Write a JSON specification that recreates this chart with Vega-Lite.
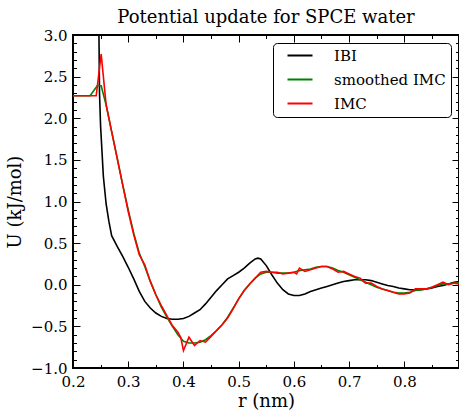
{
  "$schema": "https://vega.github.io/schema/vega-lite/v6.json",
  "width": 386,
  "height": 333,
  "autosize": "none",
  "padding": {"left": 73, "top": 35, "right": 0, "bottom": 43},
  "title": {"text": "Potential update for SPCE water", "font": "DejaVu Serif", "fontSize": 18, "fontWeight": "normal", "color": "black", "anchor": "middle", "baseline": "alphabetic", "offset": 4, "dy": 17},
  "datasets": {
    "curves": [
      {"r": 0.247, "U": 3.0, "series": "IBI"},
      {"r": 0.248, "U": 2.3, "series": "IBI"},
      {"r": 0.25, "U": 1.9, "series": "IBI"},
      {"r": 0.255, "U": 1.3, "series": "IBI"},
      {"r": 0.26, "U": 0.97, "series": "IBI"},
      {"r": 0.265, "U": 0.76, "series": "IBI"},
      {"r": 0.27, "U": 0.59, "series": "IBI"},
      {"r": 0.28, "U": 0.46, "series": "IBI"},
      {"r": 0.29, "U": 0.34, "series": "IBI"},
      {"r": 0.30, "U": 0.21, "series": "IBI"},
      {"r": 0.31, "U": 0.07, "series": "IBI"},
      {"r": 0.32, "U": -0.08, "series": "IBI"},
      {"r": 0.33, "U": -0.2, "series": "IBI"},
      {"r": 0.34, "U": -0.28, "series": "IBI"},
      {"r": 0.35, "U": -0.34, "series": "IBI"},
      {"r": 0.36, "U": -0.38, "series": "IBI"},
      {"r": 0.37, "U": -0.405, "series": "IBI"},
      {"r": 0.38, "U": -0.415, "series": "IBI"},
      {"r": 0.39, "U": -0.415, "series": "IBI"},
      {"r": 0.40, "U": -0.405, "series": "IBI"},
      {"r": 0.41, "U": -0.38, "series": "IBI"},
      {"r": 0.42, "U": -0.34, "series": "IBI"},
      {"r": 0.43, "U": -0.3, "series": "IBI"},
      {"r": 0.44, "U": -0.23, "series": "IBI"},
      {"r": 0.45, "U": -0.15, "series": "IBI"},
      {"r": 0.46, "U": -0.07, "series": "IBI"},
      {"r": 0.47, "U": 0.0, "series": "IBI"},
      {"r": 0.48, "U": 0.07, "series": "IBI"},
      {"r": 0.49, "U": 0.11, "series": "IBI"},
      {"r": 0.50, "U": 0.15, "series": "IBI"},
      {"r": 0.51, "U": 0.2, "series": "IBI"},
      {"r": 0.52, "U": 0.26, "series": "IBI"},
      {"r": 0.53, "U": 0.31, "series": "IBI"},
      {"r": 0.535, "U": 0.32, "series": "IBI"},
      {"r": 0.54, "U": 0.31, "series": "IBI"},
      {"r": 0.55, "U": 0.23, "series": "IBI"},
      {"r": 0.56, "U": 0.12, "series": "IBI"},
      {"r": 0.57, "U": 0.02, "series": "IBI"},
      {"r": 0.58, "U": -0.06, "series": "IBI"},
      {"r": 0.59, "U": -0.11, "series": "IBI"},
      {"r": 0.60, "U": -0.13, "series": "IBI"},
      {"r": 0.61, "U": -0.13, "series": "IBI"},
      {"r": 0.62, "U": -0.11, "series": "IBI"},
      {"r": 0.63, "U": -0.08, "series": "IBI"},
      {"r": 0.64, "U": -0.06, "series": "IBI"},
      {"r": 0.65, "U": -0.04, "series": "IBI"},
      {"r": 0.66, "U": -0.02, "series": "IBI"},
      {"r": 0.67, "U": 0.0, "series": "IBI"},
      {"r": 0.68, "U": 0.02, "series": "IBI"},
      {"r": 0.69, "U": 0.04, "series": "IBI"},
      {"r": 0.70, "U": 0.05, "series": "IBI"},
      {"r": 0.71, "U": 0.06, "series": "IBI"},
      {"r": 0.72, "U": 0.06, "series": "IBI"},
      {"r": 0.73, "U": 0.06, "series": "IBI"},
      {"r": 0.74, "U": 0.05, "series": "IBI"},
      {"r": 0.75, "U": 0.03, "series": "IBI"},
      {"r": 0.76, "U": 0.01, "series": "IBI"},
      {"r": 0.77, "U": -0.01, "series": "IBI"},
      {"r": 0.78, "U": -0.02, "series": "IBI"},
      {"r": 0.79, "U": -0.04, "series": "IBI"},
      {"r": 0.80, "U": -0.05, "series": "IBI"},
      {"r": 0.81, "U": -0.06, "series": "IBI"},
      {"r": 0.82, "U": -0.06, "series": "IBI"},
      {"r": 0.83, "U": -0.06, "series": "IBI"},
      {"r": 0.84, "U": -0.05, "series": "IBI"},
      {"r": 0.85, "U": -0.04, "series": "IBI"},
      {"r": 0.86, "U": -0.02, "series": "IBI"},
      {"r": 0.87, "U": -0.01, "series": "IBI"},
      {"r": 0.88, "U": 0.01, "series": "IBI"},
      {"r": 0.89, "U": 0.03, "series": "IBI"},
      {"r": 0.90, "U": 0.04, "series": "IBI"},

      {"r": 0.20, "U": 2.27, "series": "smoothed IMC"},
      {"r": 0.231, "U": 2.27, "series": "smoothed IMC"},
      {"r": 0.244, "U": 2.39, "series": "smoothed IMC"},
      {"r": 0.251, "U": 2.39, "series": "smoothed IMC"},
      {"r": 0.26, "U": 2.16, "series": "smoothed IMC"},
      {"r": 0.27, "U": 1.84, "series": "smoothed IMC"},
      {"r": 0.28, "U": 1.52, "series": "smoothed IMC"},
      {"r": 0.29, "U": 1.2, "series": "smoothed IMC"},
      {"r": 0.30, "U": 0.9, "series": "smoothed IMC"},
      {"r": 0.31, "U": 0.62, "series": "smoothed IMC"},
      {"r": 0.32, "U": 0.38, "series": "smoothed IMC"},
      {"r": 0.33, "U": 0.22, "series": "smoothed IMC"},
      {"r": 0.34, "U": 0.04, "series": "smoothed IMC"},
      {"r": 0.35, "U": -0.12, "series": "smoothed IMC"},
      {"r": 0.36, "U": -0.27, "series": "smoothed IMC"},
      {"r": 0.37, "U": -0.39, "series": "smoothed IMC"},
      {"r": 0.38, "U": -0.5, "series": "smoothed IMC"},
      {"r": 0.39, "U": -0.6, "series": "smoothed IMC"},
      {"r": 0.40, "U": -0.68, "series": "smoothed IMC"},
      {"r": 0.41, "U": -0.7, "series": "smoothed IMC"},
      {"r": 0.42, "U": -0.7, "series": "smoothed IMC"},
      {"r": 0.43, "U": -0.69, "series": "smoothed IMC"},
      {"r": 0.44, "U": -0.66, "series": "smoothed IMC"},
      {"r": 0.45, "U": -0.61, "series": "smoothed IMC"},
      {"r": 0.46, "U": -0.55, "series": "smoothed IMC"},
      {"r": 0.47, "U": -0.48, "series": "smoothed IMC"},
      {"r": 0.48, "U": -0.39, "series": "smoothed IMC"},
      {"r": 0.49, "U": -0.28, "series": "smoothed IMC"},
      {"r": 0.50, "U": -0.17, "series": "smoothed IMC"},
      {"r": 0.51, "U": -0.07, "series": "smoothed IMC"},
      {"r": 0.52, "U": 0.01, "series": "smoothed IMC"},
      {"r": 0.53, "U": 0.08, "series": "smoothed IMC"},
      {"r": 0.54, "U": 0.13, "series": "smoothed IMC"},
      {"r": 0.55, "U": 0.15, "series": "smoothed IMC"},
      {"r": 0.56, "U": 0.15, "series": "smoothed IMC"},
      {"r": 0.57, "U": 0.14, "series": "smoothed IMC"},
      {"r": 0.58, "U": 0.14, "series": "smoothed IMC"},
      {"r": 0.59, "U": 0.14, "series": "smoothed IMC"},
      {"r": 0.60, "U": 0.15, "series": "smoothed IMC"},
      {"r": 0.61, "U": 0.17, "series": "smoothed IMC"},
      {"r": 0.62, "U": 0.18, "series": "smoothed IMC"},
      {"r": 0.63, "U": 0.19, "series": "smoothed IMC"},
      {"r": 0.64, "U": 0.21, "series": "smoothed IMC"},
      {"r": 0.65, "U": 0.22, "series": "smoothed IMC"},
      {"r": 0.66, "U": 0.22, "series": "smoothed IMC"},
      {"r": 0.67, "U": 0.2, "series": "smoothed IMC"},
      {"r": 0.68, "U": 0.17, "series": "smoothed IMC"},
      {"r": 0.69, "U": 0.15, "series": "smoothed IMC"},
      {"r": 0.70, "U": 0.12, "series": "smoothed IMC"},
      {"r": 0.71, "U": 0.09, "series": "smoothed IMC"},
      {"r": 0.72, "U": 0.06, "series": "smoothed IMC"},
      {"r": 0.73, "U": 0.03, "series": "smoothed IMC"},
      {"r": 0.74, "U": 0.0, "series": "smoothed IMC"},
      {"r": 0.75, "U": -0.03, "series": "smoothed IMC"},
      {"r": 0.76, "U": -0.05, "series": "smoothed IMC"},
      {"r": 0.77, "U": -0.07, "series": "smoothed IMC"},
      {"r": 0.78, "U": -0.09, "series": "smoothed IMC"},
      {"r": 0.79, "U": -0.1, "series": "smoothed IMC"},
      {"r": 0.80, "U": -0.1, "series": "smoothed IMC"},
      {"r": 0.81, "U": -0.09, "series": "smoothed IMC"},
      {"r": 0.82, "U": -0.07, "series": "smoothed IMC"},
      {"r": 0.83, "U": -0.06, "series": "smoothed IMC"},
      {"r": 0.84, "U": -0.05, "series": "smoothed IMC"},
      {"r": 0.85, "U": -0.03, "series": "smoothed IMC"},
      {"r": 0.86, "U": -0.01, "series": "smoothed IMC"},
      {"r": 0.87, "U": 0.01, "series": "smoothed IMC"},
      {"r": 0.88, "U": 0.01, "series": "smoothed IMC"},
      {"r": 0.89, "U": 0.02, "series": "smoothed IMC"},
      {"r": 0.90, "U": 0.02, "series": "smoothed IMC"},

      {"r": 0.20, "U": 2.27, "series": "IMC"},
      {"r": 0.242, "U": 2.27, "series": "IMC"},
      {"r": 0.251, "U": 2.77, "series": "IMC"},
      {"r": 0.26, "U": 2.16, "series": "IMC"},
      {"r": 0.27, "U": 1.84, "series": "IMC"},
      {"r": 0.28, "U": 1.52, "series": "IMC"},
      {"r": 0.29, "U": 1.2, "series": "IMC"},
      {"r": 0.30, "U": 0.88, "series": "IMC"},
      {"r": 0.31, "U": 0.6, "series": "IMC"},
      {"r": 0.32, "U": 0.36, "series": "IMC"},
      {"r": 0.33, "U": 0.24, "series": "IMC"},
      {"r": 0.34, "U": 0.04, "series": "IMC"},
      {"r": 0.35, "U": -0.12, "series": "IMC"},
      {"r": 0.36, "U": -0.25, "series": "IMC"},
      {"r": 0.37, "U": -0.37, "series": "IMC"},
      {"r": 0.38, "U": -0.49, "series": "IMC"},
      {"r": 0.39, "U": -0.57, "series": "IMC"},
      {"r": 0.395, "U": -0.63, "series": "IMC"},
      {"r": 0.40, "U": -0.79, "series": "IMC"},
      {"r": 0.41, "U": -0.63, "series": "IMC"},
      {"r": 0.42, "U": -0.73, "series": "IMC"},
      {"r": 0.43, "U": -0.67, "series": "IMC"},
      {"r": 0.44, "U": -0.69, "series": "IMC"},
      {"r": 0.45, "U": -0.62, "series": "IMC"},
      {"r": 0.46, "U": -0.55, "series": "IMC"},
      {"r": 0.47, "U": -0.48, "series": "IMC"},
      {"r": 0.48, "U": -0.4, "series": "IMC"},
      {"r": 0.49, "U": -0.29, "series": "IMC"},
      {"r": 0.50, "U": -0.17, "series": "IMC"},
      {"r": 0.51, "U": -0.07, "series": "IMC"},
      {"r": 0.52, "U": 0.01, "series": "IMC"},
      {"r": 0.53, "U": 0.08, "series": "IMC"},
      {"r": 0.54, "U": 0.15, "series": "IMC"},
      {"r": 0.55, "U": 0.16, "series": "IMC"},
      {"r": 0.56, "U": 0.15, "series": "IMC"},
      {"r": 0.57, "U": 0.15, "series": "IMC"},
      {"r": 0.58, "U": 0.13, "series": "IMC"},
      {"r": 0.59, "U": 0.14, "series": "IMC"},
      {"r": 0.60, "U": 0.15, "series": "IMC"},
      {"r": 0.605, "U": 0.13, "series": "IMC"},
      {"r": 0.61, "U": 0.2, "series": "IMC"},
      {"r": 0.62, "U": 0.16, "series": "IMC"},
      {"r": 0.63, "U": 0.18, "series": "IMC"},
      {"r": 0.64, "U": 0.2, "series": "IMC"},
      {"r": 0.65, "U": 0.22, "series": "IMC"},
      {"r": 0.66, "U": 0.22, "series": "IMC"},
      {"r": 0.67, "U": 0.19, "series": "IMC"},
      {"r": 0.68, "U": 0.15, "series": "IMC"},
      {"r": 0.69, "U": 0.16, "series": "IMC"},
      {"r": 0.70, "U": 0.13, "series": "IMC"},
      {"r": 0.71, "U": 0.1, "series": "IMC"},
      {"r": 0.72, "U": 0.08, "series": "IMC"},
      {"r": 0.73, "U": 0.02, "series": "IMC"},
      {"r": 0.74, "U": 0.02, "series": "IMC"},
      {"r": 0.75, "U": -0.02, "series": "IMC"},
      {"r": 0.76, "U": -0.05, "series": "IMC"},
      {"r": 0.77, "U": -0.07, "series": "IMC"},
      {"r": 0.78, "U": -0.09, "series": "IMC"},
      {"r": 0.79, "U": -0.11, "series": "IMC"},
      {"r": 0.80, "U": -0.11, "series": "IMC"},
      {"r": 0.81, "U": -0.1, "series": "IMC"},
      {"r": 0.82, "U": -0.05, "series": "IMC"},
      {"r": 0.83, "U": -0.05, "series": "IMC"},
      {"r": 0.84, "U": -0.05, "series": "IMC"},
      {"r": 0.85, "U": -0.03, "series": "IMC"},
      {"r": 0.86, "U": 0.0, "series": "IMC"},
      {"r": 0.87, "U": 0.03, "series": "IMC"},
      {"r": 0.88, "U": 0.0, "series": "IMC"},
      {"r": 0.89, "U": 0.02, "series": "IMC"},
      {"r": 0.90, "U": 0.01, "series": "IMC"}
    ]
  },
  "data": {"name": "curves"},
  "config": {
    "font": "DejaVu Serif",
    "view": {"stroke": "black", "strokeWidth": 2},
    "axis": {
      "domain": false, "grid": false, "tickColor": "black", "tickWidth": 1,
      "labelFont": "DejaVu Serif", "labelFontSize": 15, "labelColor": "black",
      "labelFlush": false, "labelOverlap": false, "labelBound": false,
      "titleFont": "DejaVu Serif", "titleFontSize": 18, "titleFontWeight": "normal", "titleColor": "black"
    },
    "legend": {
      "orient": "top-right", "offset": 8, "strokeColor": "black", "fillColor": "white",
      "cornerRadius": 4, "padding": 5, "symbolType": "M0.67,0H9", "symbolStrokeWidth": 2,
      "symbolSize": 36, "labelFont": "DejaVu Serif", "labelFontSize": 15, "labelColor": "black",
      "labelOffset": 41, "rowPadding": 8
    }
  },
  "resolve": {"axis": {"x": "independent", "y": "independent"}},
  "layer": [
    {
      "mark": {"type": "line", "strokeWidth": 1.6, "clip": true},
      "encoding": {
        "x": {"field": "r", "type": "quantitative",
          "scale": {"domain": [0.2, 0.899], "nice": false, "zero": false},
          "axis": {"orient": "bottom", "values": [0.2, 0.3, 0.4, 0.5, 0.6, 0.7, 0.8], "format": ".1f",
            "tickSize": -7, "labelPadding": 13, "title": "r (nm)", "titlePadding": 3}},
        "y": {"field": "U", "type": "quantitative",
          "scale": {"domain": [-1, 3], "nice": false, "zero": false},
          "axis": {"orient": "left", "values": [-1, -0.5, 0, 0.5, 1, 1.5, 2, 2.5, 3], "format": ".1f",
            "tickSize": -7, "labelPadding": 13, "title": "U (kJ/mol)", "titlePadding": 6}},
        "color": {"field": "series", "type": "nominal",
          "scale": {"domain": ["IBI", "smoothed IMC", "IMC"], "range": ["black", "#008000", "#ff0000"]},
          "legend": {"title": null}}
      }
    },
    {
      "mark": {"type": "point", "opacity": 0},
      "encoding": {
        "x": {"field": "r", "type": "quantitative",
          "scale": {"domain": [0.2, 0.899], "nice": false, "zero": false},
          "axis": {"orient": "bottom", "values": [0.25, 0.35, 0.45, 0.55, 0.65, 0.75, 0.85], "tickSize": -3.5, "labels": false, "title": null}},
        "y": {"field": "U", "type": "quantitative",
          "scale": {"domain": [-1, 3], "nice": false, "zero": false},
          "axis": {"orient": "left", "values": [-0.9, -0.8, -0.7, -0.6, -0.4, -0.3, -0.2, -0.1, 0.1, 0.2, 0.3, 0.4, 0.6, 0.7, 0.8, 0.9, 1.1, 1.2, 1.3, 1.4, 1.6, 1.7, 1.8, 1.9, 2.1, 2.2, 2.3, 2.4, 2.6, 2.7, 2.8, 2.9], "tickSize": -3.5, "labels": false, "title": null}}
      }
    },
    {
      "mark": {"type": "point", "opacity": 0},
      "encoding": {
        "x": {"field": "r", "type": "quantitative",
          "scale": {"domain": [0.2, 0.899], "nice": false, "zero": false},
          "axis": {"orient": "top", "values": [0.2, 0.3, 0.4, 0.5, 0.6, 0.7, 0.8], "tickSize": -7, "labels": false, "title": null}},
        "y": {"field": "U", "type": "quantitative",
          "scale": {"domain": [-1, 3], "nice": false, "zero": false},
          "axis": {"orient": "right", "values": [-1, -0.5, 0, 0.5, 1, 1.5, 2, 2.5, 3], "tickSize": -7, "labels": false, "title": null}}
      }
    },
    {
      "mark": {"type": "point", "opacity": 0},
      "encoding": {
        "x": {"field": "r", "type": "quantitative",
          "scale": {"domain": [0.2, 0.899], "nice": false, "zero": false},
          "axis": {"orient": "top", "values": [0.25, 0.35, 0.45, 0.55, 0.65, 0.75, 0.85], "tickSize": -3.5, "labels": false, "title": null}},
        "y": {"field": "U", "type": "quantitative",
          "scale": {"domain": [-1, 3], "nice": false, "zero": false},
          "axis": {"orient": "right", "values": [-0.9, -0.8, -0.7, -0.6, -0.4, -0.3, -0.2, -0.1, 0.1, 0.2, 0.3, 0.4, 0.6, 0.7, 0.8, 0.9, 1.1, 1.2, 1.3, 1.4, 1.6, 1.7, 1.8, 1.9, 2.1, 2.2, 2.3, 2.4, 2.6, 2.7, 2.8, 2.9], "tickSize": -3.5, "labels": false, "title": null}}
      }
    }
  ]
}
